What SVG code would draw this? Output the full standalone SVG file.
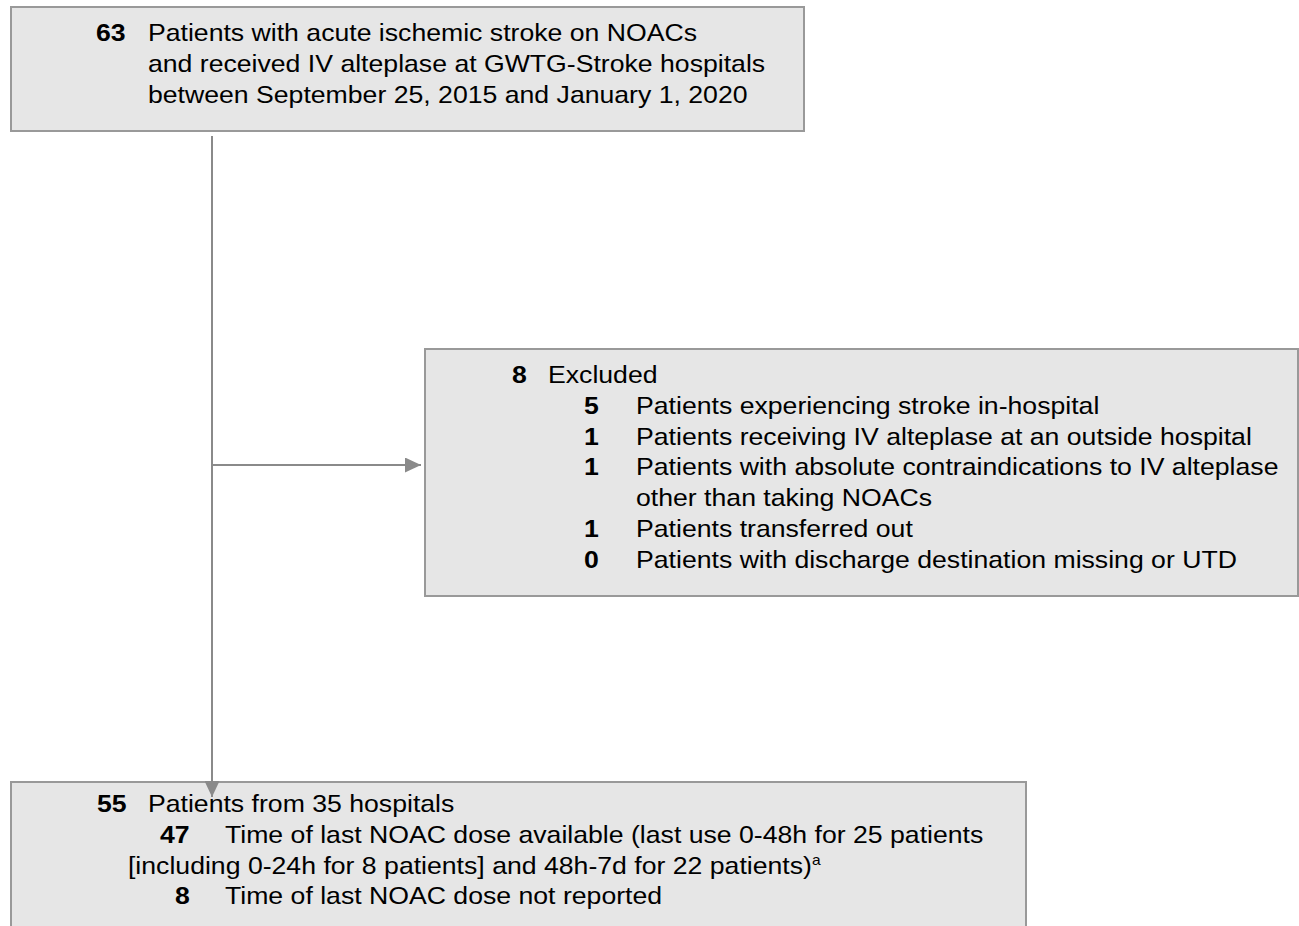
<svg xmlns="http://www.w3.org/2000/svg" width="1299" height="926" viewBox="0 0 1299 926">
<style>
.box{fill:#e6e6e6;stroke:#999;stroke-width:2}
text{font-family:"Liberation Sans",Arial,sans-serif;font-size:24px;fill:#000}
.b{font-weight:bold}
.conn{stroke:#8a8a8a;stroke-width:2;fill:none}
</style>
<defs>
<marker id="ah" markerWidth="16" markerHeight="15" refX="16" refY="7.5" orient="auto" markerUnits="userSpaceOnUse" viewBox="0 0 16 15">
<path d="M0,0 L16,7.5 L0,15 z" fill="#8a8a8a"/>
</marker>
</defs>
<rect width="1299" height="926" fill="#fff"/>
<g id="node-start">
<rect class="box" x="11" y="7" width="793" height="124"/>
<g transform="scale(1.11,1)">
<text x="86.5" y="41" class="b">63</text>
<text x="133.3" y="41">Patients with acute ischemic stroke on NOACs</text>
<text x="133.3" y="72">and received IV alteplase at GWTG-Stroke hospitals</text>
<text x="133.3" y="103">between September 25, 2015 and January 1, 2020</text>
</g>
</g>
<g id="node-excluded">
<rect class="box" x="425" y="349" width="873" height="247"/>
<g transform="scale(1.11,1)">
<text x="461.3" y="383" class="b">8</text>
<text x="493.7" y="383">Excluded</text>
<text x="526.1" y="414" class="b">5</text>
<text x="573" y="414">Patients experiencing stroke in-hospital</text>
<text x="526.1" y="445" class="b">1</text>
<text x="573" y="445">Patients receiving IV alteplase at an outside hospital</text>
<text x="526.1" y="475" class="b">1</text>
<text x="573" y="475">Patients with absolute contraindications to IV alteplase</text>
<text x="573" y="506">other than taking NOACs</text>
<text x="526.1" y="537" class="b">1</text>
<text x="573" y="537">Patients transferred out</text>
<text x="526.1" y="568" class="b">0</text>
<text x="573" y="568">Patients with discharge destination missing or UTD</text>
</g>
</g>
<g id="node-final">
<rect class="box" x="11" y="782" width="1015" height="160"/>
<g transform="scale(1.11,1)">
<text x="87.4" y="812" class="b">55</text>
<text x="133.3" y="812">Patients from 35 hospitals</text>
<text x="144.1" y="843" class="b">47</text>
<text x="202.7" y="843">Time of last NOAC dose available (last use 0-48h for 25 patients</text>
<text x="115.3" y="874">[including 0-24h for 8 patients] and 48h-7d for 22 patients)<tspan font-size="14" dy="-9">a</tspan></text>
<text x="157.7" y="904" class="b">8</text>
<text x="202.7" y="904">Time of last NOAC dose not reported</text>
</g>
</g>
<g id="connectors">
<line class="conn" x1="212" y1="136" x2="212" y2="797" marker-end="url(#ah)"/>
<line class="conn" x1="212" y1="465" x2="421" y2="465" marker-end="url(#ah)"/>
</g>
</svg>
